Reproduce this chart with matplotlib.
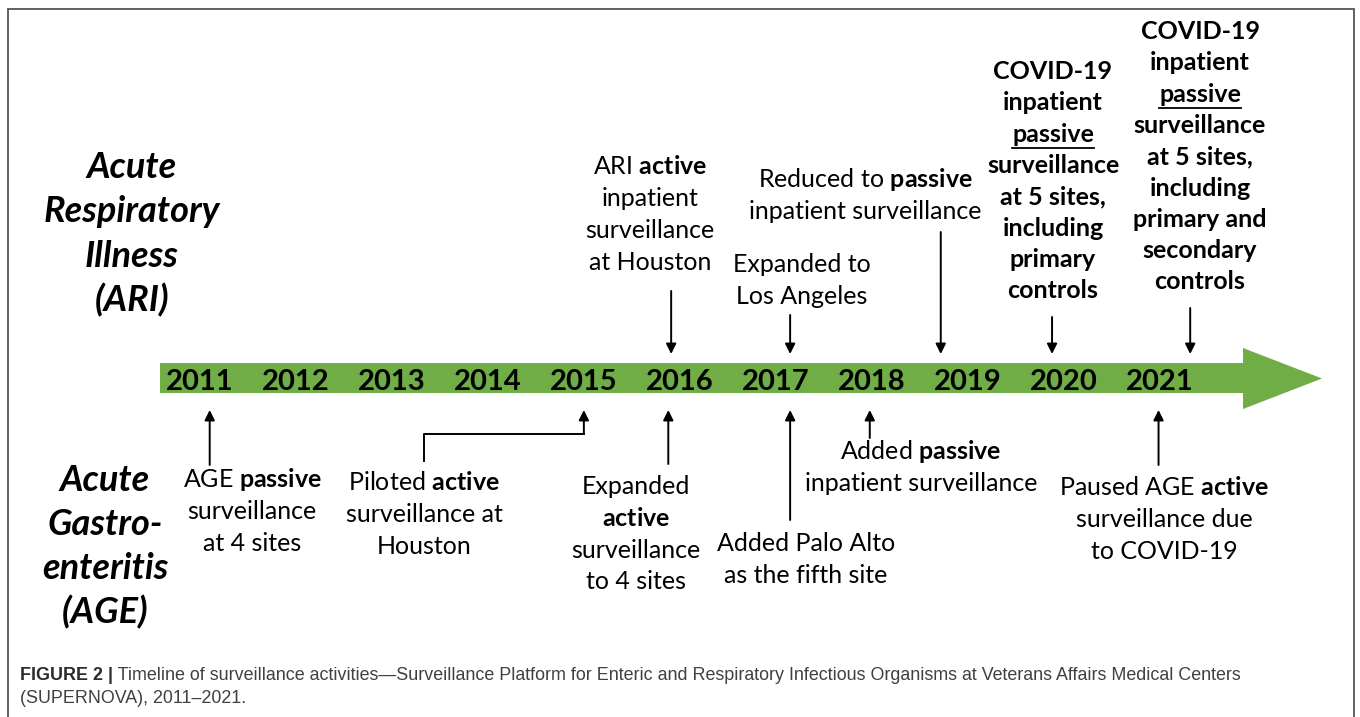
import matplotlib
matplotlib.use("Agg")
import matplotlib.pyplot as plt
from matplotlib.patches import Polygon

plt.rcParams['font.family'] = ['Lato', 'DejaVu Sans']
plt.rcParams['mathtext.fontset'] = 'custom'
plt.rcParams['mathtext.rm'] = 'Lato'
plt.rcParams['mathtext.bf'] = 'Lato:bold'
plt.rcParams['mathtext.it'] = 'Lato:italic'

# timeline years
years = list(range(2011, 2022))

# ARI events (above the timeline); position in years
ari_when = [2015.91, 2017.15, 2018.72, 2019.88, 2021.32]
ari_bold = [False, False, False, True, True]
ari_text = [
    ["ARI $\\mathbf{active}$", "inpatient", "surveillance", "at Houston"],
    ["Expanded to", "Los Angeles"],
    ["Reduced to $\\mathbf{passive}$", "inpatient surveillance"],
    ["COVID-19", "inpatient", "_passive", "surveillance", "at 5 sites,",
     "including", "primary", "controls"],
    ["COVID-19", "inpatient", "_passive", "surveillance", "at 5 sites,",
     "including", "primary and", "secondary", "controls"],
]

# AGE events (below the timeline)
age_when = [2011.1, 2015.0, 2015.88, 2017.15, 2017.98, 2020.99]
age_text = [
    ["AGE $\\mathbf{passive}$", "surveillance", "at 4 sites"],
    ["Piloted $\\mathbf{active}$", "surveillance at", "Houston"],
    ["Expanded", "$\\mathbf{active}$", "surveillance", "to 4 sites"],
    ["Added Palo Alto", "as the fifth site"],
    ["Added $\\mathbf{passive}$", "inpatient surveillance"],
    ["Paused AGE $\\mathbf{active}$", "surveillance due", "to COVID-19"],
]

ari_title = ["Acute", "Respiratory", "Illness", "(ARI)"]
age_title = ["Acute", "Gastro-", "enteritis", "(AGE)"]

caption_bold = "FIGURE 2 |"
caption_rest = (" Timeline of surveillance activities\u2014Surveillance Platform for Enteric "
                "and Respiratory Infectious Organisms at Veterans Affairs Medical Centers")
caption_line2 = "(SUPERNOVA), 2011\u20132021."

# ---- layout (pixels of the 1360x717 canvas) ----
fig = plt.figure(figsize=(13.6, 7.17), dpi=100)
ax = fig.add_axes([0, 0, 1, 1])
PX0, PX_PER_YEAR = 200.1, 95.94


def px2yr(px):
    return years[0] + (px - PX0) / PX_PER_YEAR


ax.set_xlim(px2yr(0), px2yr(1360))
ax.set_ylim(717, 0)
ax.axis('off')

# frame
ax.plot([px2yr(8), px2yr(8), px2yr(1354), px2yr(1354)], [717, 9, 9, 717],
        color='#555555', lw=1.3, solid_joinstyle='miter')

# green timeline arrow
band = [(160, 363), (1243, 363), (1243, 348), (1322, 378.5), (1243, 409),
        (1243, 393), (160, 393)]
ax.add_patch(Polygon([(px2yr(x), y) for x, y in band], closed=True,
                     facecolor='#70AD47', edgecolor='none'))

for yr in years:
    ax.text(yr, 390, str(yr), ha='center', va='baseline', fontsize=21,
            fontweight='bold', color='black')

underlines = []


def draw_lines(xc, y_first, lines, step, size, weight='normal', style='normal', shift=7):
    for i, s in enumerate(lines):
        ul = s.startswith('_')
        if ul:
            s = s[1:]
        y = y_first + i * step + shift
        t = ax.text(px2yr(xc), y, s, ha='center', va='baseline', fontsize=size,
                    fontweight=weight, fontstyle=style, color='black')
        if ul:
            underlines.append((t, y))


def arrow(x, y_from, y_to):
    ax.annotate('', xy=(x, y_to), xytext=(x, y_from),
                arrowprops=dict(arrowstyle='-|>', color='black', lw=1.4,
                                mutation_scale=15, shrinkA=0, shrinkB=0))


# group titles
draw_lines(132, 167, ari_title, 44.3, 26, weight='bold', style='italic', shift=11)
draw_lines(105, 480, age_title, 44.0, 26, weight='bold', style='italic', shift=11)

# ARI annotations: (text centre x, first line y, arrow tail y)
ari_layout = [(650, 167, 291), (802, 265, 315), (865, 180, 232),
              (1053, 72, 317), (1200, 32, 308)]
for when, lines, bold, (xc, y0, tail) in zip(ari_when, ari_text, ari_bold, ari_layout):
    if bold:
        draw_lines(xc, y0, lines, 31.3, 18, weight='bold')
    else:
        draw_lines(xc, y0, lines, 32.0, 18)
    arrow(when, tail, 354)

# AGE annotations
age_layout = [(252, 480, 465), (424, 483, 461), (636, 487, 464),
              (806, 544, 520), (921, 452, 438), (1164, 488, 465)]
for k, (when, lines, (xc, y0, tail)) in enumerate(zip(age_when, age_text, age_layout)):
    draw_lines(xc, y0, lines, 31.8, 18)
    if k == 1:
        # elbow connector from the text to 2015
        ax.plot([px2yr(xc), px2yr(xc), when], [tail, 434, 434], color='black', lw=1.4)
        arrow(when, 434, 410)
    else:
        arrow(when, tail, 410)

# caption
cap_font = ['Liberation Sans Narrow', 'Liberation Sans']
fig.canvas.draw()
r = fig.canvas.get_renderer()
inv = ax.transData.inverted()

size = 12
cb = ax.text(px2yr(20), 680, caption_bold, fontsize=size, fontweight='bold',
             family=cap_font, color='#2b2b2b', va='baseline', ha='left')
cr = ax.text(px2yr(20), 680, caption_rest, fontsize=size, family=cap_font,
             color='#404040', va='baseline', ha='left')
w = cb.get_window_extent(r).width + cr.get_window_extent(r).width
size = size * 1220 / w
cb.set_fontsize(size)
cr.set_fontsize(size)
x1 = inv.transform((cb.get_window_extent(r).x1, 0))[0]
cr.set_x(x1)
ax.text(px2yr(20), 703, caption_line2, fontsize=size, family=cap_font,
        color='#404040', va='baseline', ha='left')

# underlines below "passive"
for t, y in underlines:
    bb = t.get_window_extent(r)
    xa = inv.transform((bb.x0, 0))[0]
    xb = inv.transform((bb.x1, 0))[0]
    ax.plot([xa, xb], [y + 6, y + 6], color='black', lw=1.3)

fig.savefig('out.png', dpi=100)
